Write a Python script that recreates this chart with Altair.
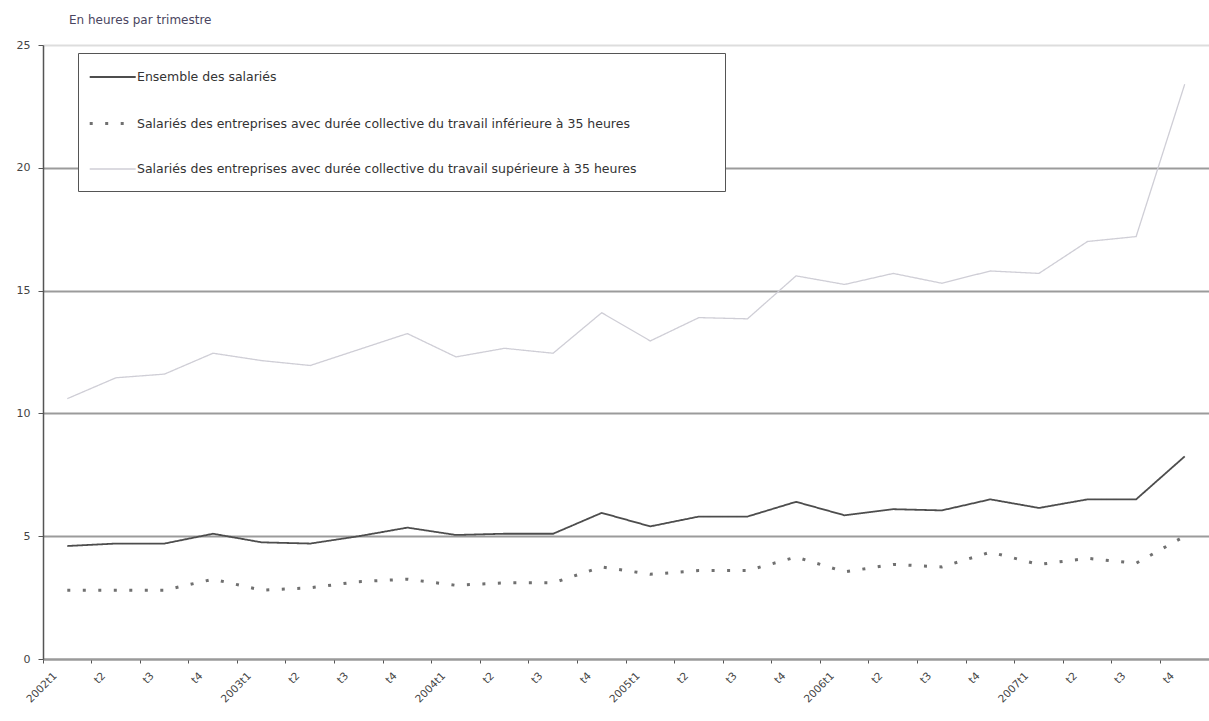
import altair as alt
import pandas as pd

# Quarters 2002t1 .. 2007t4
years = [2002, 2003, 2004, 2005, 2006, 2007]
quarters = [f"{y}t{q}" for y in years for q in (1, 2, 3, 4)]

s_all = "Ensemble des salariés"
s_low = "Salariés des entreprises avec durée collective du travail inférieure à 35 heures"
s_high = "Salariés des entreprises avec durée collective du travail supérieure à 35 heures"
series = [s_all, s_low, s_high]

# Heures supplémentaires par salarié et par trimestre
ensemble = [4.6, 4.7, 4.7, 5.1, 4.75, 4.7, 5.0, 5.35,
            5.05, 5.1, 5.1, 5.95, 5.4, 5.8, 5.8, 6.4,
            5.85, 6.1, 6.05, 6.5, 6.15, 6.5, 6.5, 8.25]
inferieure = [2.8, 2.8, 2.8, 3.25, 2.8, 2.9, 3.15, 3.25,
              3.0, 3.1, 3.1, 3.75, 3.45, 3.6, 3.6, 4.15,
              3.55, 3.85, 3.75, 4.35, 3.85, 4.1, 3.9, 5.0]
superieure = [10.6, 11.45, 11.6, 12.45, 12.15, 11.95, 12.6, 13.25,
              12.3, 12.65, 12.45, 14.1, 12.95, 13.9, 13.85, 15.6,
              15.25, 15.7, 15.3, 15.8, 15.7, 17.0, 17.2, 23.4]

y_ticks = [0, 5, 10, 15, 20, 25]

rows = []
for name, vals in zip(series, [ensemble, inferieure, superieure]):
    for q, v in zip(quarters, vals):
        rows.append({"trimestre": q, "heures": v, "serie": name})
df = pd.DataFrame(rows)

font = "DejaVu Sans"

# Legend key: a horizontal stroke, about three symbol-sizes long
# (path units are scaled by sqrt(size)/2).
key_path = "M-1.6,0H4.15"

legend = alt.Legend(
    title=None,
    orient="none",
    legendX=35,
    legendY=8,
    direction="vertical",
    symbolType=key_path,
    symbolSize=256,
    labelFont=font,
    labelFontSize=12.5,
    labelColor="#333333",
    labelLimit=0,
    labelOffset=25,
    # trailing blank glyphs widen the framed box to the right
    labelExpr="datum.label + '\u2800\u2800\u2800\u2800\u2800\u2800\u2800\u2800'",
    rowPadding=30,
    padding=15,
    strokeColor="#555555",
    fillColor="white",
)

chart = alt.Chart(df).mark_line(strokeJoin="miter").encode(
    x=alt.X(
        "trimestre:N",
        sort=quarters,
        bandPosition=0.5,
        scale=alt.Scale(type="band", paddingInner=0, paddingOuter=0),
        axis=alt.Axis(
            title=None,
            bandPosition=0,
            labelExpr="slice(datum.value, 4) == 't1' ? datum.value : slice(datum.value, 4)",
            labelAngle=315,
            labelAlign="right",
            labelBaseline="middle",
            labelOffset=-12,
            labelPadding=11,
            labelFont=font,
            labelFontSize=10.5,
            labelColor="#444444",
            tickColor="#555555",
            tickSize=4,
            domainColor="#9a9a9a",
            domainWidth=2,
            grid=False,
        ),
    ),
    y=alt.Y(
        "heures:Q",
        scale=alt.Scale(domain=[0, 25], nice=False),
        axis=alt.Axis(
            title=None,
            values=y_ticks,
            labelFont=font,
            labelFontSize=11,
            labelColor="#444444",
            labelPadding=8,
            tickColor="#555555",
            tickSize=5,
            domainColor="#555555",
            domainWidth=1.5,
            grid=True,
            gridColor={"condition": {"test": "datum.value === 25", "value": "#dddddd"},
                       "value": "#9b9b9b"},
            gridWidth=2,
        ),
    ),
    color=alt.Color(
        "serie:N",
        scale=alt.Scale(domain=series, range=["#4d4d4d", "#707070", "#cfced6"]),
        legend=legend,
    ),
    strokeDash=alt.StrokeDash(
        "serie:N",
        scale=alt.Scale(domain=series, range=[[1, 0], [3, 12.5], [1, 0]]),
        legend=legend,
    ),
    strokeWidth=alt.StrokeWidth(
        "serie:N",
        scale=alt.Scale(type="ordinal", domain=series, range=[1.8, 3, 1.3]),
        legend=legend,
    ),
).properties(
    width=1166,
    height=614,
    title=alt.Title(
        "En heures par trimestre",
        anchor="start",
        frame="group",
        dx=26,
        offset=12,
        font=font,
        fontSize=12,
        fontWeight="normal",
        color="#4a4560",
    ),
    autosize=alt.AutoSizeParams(type="none"),
    padding={"left": 43, "top": 45, "right": 0, "bottom": 62},
).configure_view(stroke=None)

chart.save("out.html", embed_options={"renderer": "svg", "actions": False})
